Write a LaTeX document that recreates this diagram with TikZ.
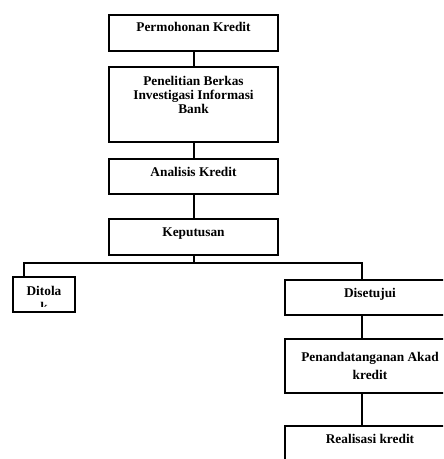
\documentclass[tikz,border=0pt]{standalone}
\usepackage{fontspec}
\setmainfont{Liberation Serif}
\usepackage{tikz}
\usetikzlibrary{positioning}

\begin{document}
\begin{tikzpicture}[
  x=0.75pt, y=-0.75pt,
  every node/.style={font=\fontsize{10}{10.5}\selectfont\bfseries},
  step box/.style={draw, line width=1.5pt, inner sep=0pt, align=center, minimum width=126.75pt},
  link/.style={line width=1.5pt}
]
\useasboundingbox (0,0) rectangle (443,459);
\clip (0,0) rectangle (443,459);

% Middle column: application up to decision
\node[step box, anchor=north, text height=12.35pt, text depth=14.65pt] (permohonan) at (193.5,14) {Permohonan Kredit};
\node[step box, below=10.5pt of permohonan, text height=35.25pt, text depth=21pt] (penelitian) {Penelitian Berkas\\Investigasi Informasi\\Bank};
\node[step box, below=11.25pt of penelitian, text height=13.15pt, text depth=13.15pt] (analisis) {Analisis Kredit};
\node[step box, below=17.25pt of analisis, text height=12.75pt, text depth=14.25pt] (keputusan) {Keputusan};

% Left branch: rejected
\node[step box, anchor=north, minimum width=46.5pt, text height=13.5pt, text depth=12.75pt] (ditolak) at (44,276) {Ditola};
\begin{scope}
  \clip (13,276) rectangle (75,306);
  \node[below=2pt of ditolak.base] (ditolakk) {k};
\end{scope}

% Right branch: approved
\node[step box, anchor=north, minimum width=127.5pt, text height=12.75pt, text depth=13.5pt] (disetujui) at (370,279) {Disetujui};
\node[step box, below=16.5pt of disetujui, minimum width=127.5pt, text height=30pt, text depth=10.5pt, font=\fontsize{10}{13.5}\selectfont\bfseries] (akad) {Penandatanganan Akad\\kredit};
\node[step box, below=23.25pt of akad, minimum width=127.5pt, text height=12.75pt, text depth=20pt] (realisasi) {Realisasi kredit};

% Connections
\draw[link] (permohonan) -- (penelitian);
\draw[link] (penelitian) -- (analisis);
\draw[link] (analisis) -- (keputusan);
\draw[link] (keputusan.south) -- ++(0,7) coordinate (split);
\draw[link] ([xshift=9pt]ditolak.north west) |- (split) -| ([xshift=-6pt]disetujui.north);
\draw[link] ([xshift=-6pt]disetujui.south) -- ([xshift=-6pt]akad.north);
\draw[link] ([xshift=-6pt]akad.south) -- ([xshift=-6pt]realisasi.north);

\end{tikzpicture}
\end{document}
